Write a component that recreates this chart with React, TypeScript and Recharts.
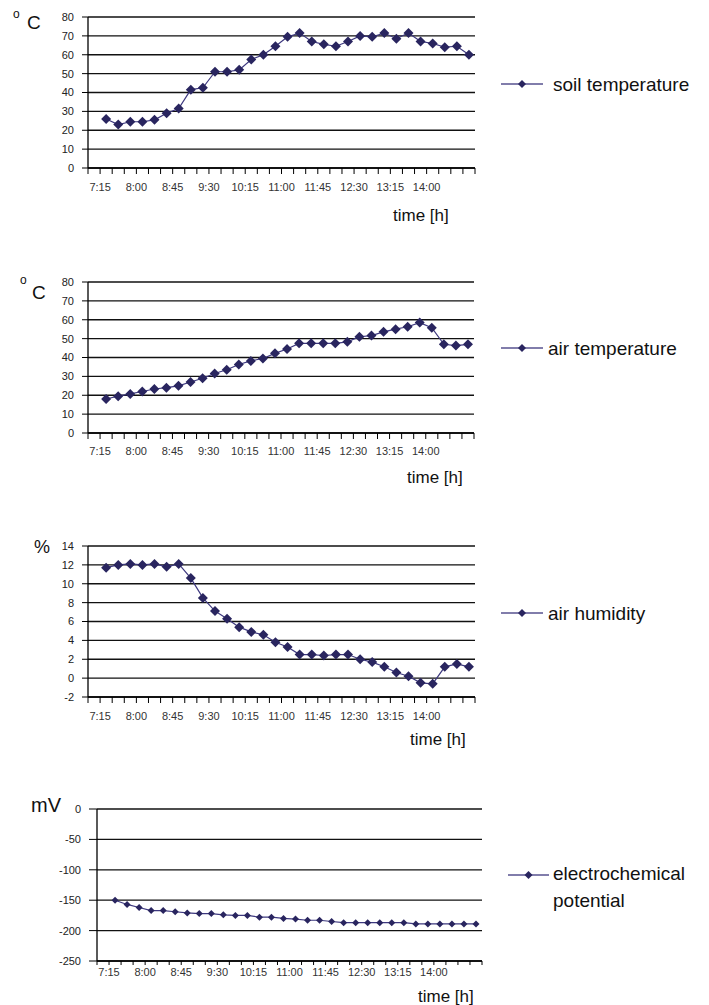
import React from 'react';
import { LineChart, Line, XAxis, YAxis, CartesianGrid } from 'recharts';

// one slot every 15 minutes, first slot has no reading
const timeSlots = [
  '7:00', '7:15', '7:30', '7:45', '8:00', '8:15', '8:30', '8:45',
  '9:00', '9:15', '9:30', '9:45', '10:00', '10:15', '10:30', '10:45',
  '11:00', '11:15', '11:30', '11:45', '12:00', '12:15', '12:30', '12:45',
  '13:00', '13:15', '13:30', '13:45', '14:00', '14:15', '14:30', '14:45',
];
const shownTimes = ['7:15', '8:00', '8:45', '9:30', '10:15', '11:00', '11:45', '12:30', '13:15', '14:00'];

const soilTemp = [26, 23, 24.5, 24.5, 25.5, 29, 31.5, 41.5, 42.5, 51, 51, 52, 57.5, 60, 64.5, 69.5, 71.5, 67, 65.5, 64.5, 67, 70, 69.5, 71.5, 68.5, 71.5, 67, 66, 64, 64.5, 60];
const airTemp = [18, 19.5, 20.7, 22, 23.3, 24, 25, 27, 29, 31.5, 33.5, 36.3, 38.2, 39.5, 42.2, 44.5, 47.5, 47.5, 47.5, 47.5, 48.3, 51, 51.6, 53.6, 55, 56.3, 58.5, 55.8, 47, 46.3, 47];
const airHumidity = [11.7, 12, 12.1, 12, 12.1, 11.8, 12.1, 10.6, 8.5, 7.1, 6.3, 5.4, 4.9, 4.6, 3.8, 3.3, 2.5, 2.5, 2.4, 2.5, 2.5, 2.0, 1.7, 1.2, 0.6, 0.2, -0.5, -0.6, 1.2, 1.5, 1.2];
const potential = [-150, -157, -162, -167, -167, -169, -171, -172, -172, -174, -175, -175, -178, -178, -180, -181, -183, -183, -185, -187, -187, -187, -187, -187, -187, -189, -189, -189, -189, -189, -189];

const tempTicks = [0, 10, 20, 30, 40, 50, 60, 70, 80];
const humidityTicks = [-2, 0, 2, 4, 6, 8, 10, 12, 14];
const potentialTicks = [-250, -200, -150, -100, -50, 0];

const buildData = (values: number[]) =>
  timeSlots.map((time, i) => ({ time, value: i === 0 ? null : values[i - 1] }));

const FONT = '"Liberation Sans", Arial, sans-serif';
const LINE = '#3d387f';
const MARK = '#29255f';

const Diamond = ({ cx, cy, r }: any) => {
  if (cx == null || cy == null || isNaN(cy)) return null;
  return <polygon points={`${cx},${cy - r} ${cx + r},${cy} ${cx},${cy + r} ${cx - r},${cy}`} fill={MARK} />;
};

const XTick = (props: any) => {
  const { x, y, payload, index, bandHalf, labelDy, tickLen } = props;
  const half = payload && payload.offset ? payload.offset : bandHalf;
  const bx = x - half;
  const isLast = index === timeSlots.length - 1;
  return (
    <g>
      <line x1={bx} y1={y} x2={bx} y2={y + tickLen} stroke="#000" />
      {isLast && <line x1={x + half} y1={y} x2={x + half} y2={y + tickLen} stroke="#000" />}
      {shownTimes.includes(payload.value) && (
        <text x={bx} y={y + labelDy} textAnchor="middle" fontSize={11} fill="#333" fontFamily={FONT}>
          {payload.value}
        </text>
      )}
    </g>
  );
};

type PanelProps = {
  top: number;
  values: number[];
  domain: [number, number];
  ticks: number[];
  yWidth: number;
  right: number;
  plotHeight: number;
  labelDy: number;
  tickLen: number;
  markR: number;
  yTickSize: number;
};

const WIDTH = 490;
const MT = 10;
const XH = 40;

const Panel = ({ top, values, domain, ticks, yWidth, right, plotHeight, labelDy, tickLen, markR, yTickSize }: PanelProps) => {
  const data = buildData(values);
  const bandHalf = (WIDTH - yWidth - right) / timeSlots.length / 2;
  return (
    <div style={{ position: 'absolute', left: 0, top }}>
      <LineChart width={WIDTH} height={MT + plotHeight + XH} data={data} margin={{ top: MT, right, bottom: 0, left: 0 }}>
        <CartesianGrid vertical={false} stroke="#111" strokeWidth={1.3} />
        <XAxis
          dataKey="time"
          scale="band"
          interval={0}
          height={XH}
          tickSize={0}
          tickMargin={0}
          tickLine={false}
          axisLine={{ stroke: '#000', strokeWidth: 1.3 }}
          tick={(p: any) => <XTick {...p} bandHalf={bandHalf} labelDy={labelDy} tickLen={tickLen} />}
        />
        <XAxis xAxisId="top" dataKey="time" orientation="top" height={0} tick={false} tickLine={false} axisLine={{ stroke: '#999' }} />
        <YAxis
          domain={domain}
          ticks={ticks}
          width={yWidth}
          interval={0}
          tickSize={yTickSize}
          tickMargin={8}
          tickLine={{ stroke: '#000' }}
          axisLine={{ stroke: '#000', strokeWidth: 1.3 }}
          tick={{ fontSize: 11, fill: '#222', fontFamily: FONT }}
        />
        <YAxis yAxisId="right" orientation="right" width={0} tick={false} tickLine={false} axisLine={{ stroke: '#999' }} />
        <Line
          type="linear"
          dataKey="value"
          stroke={LINE}
          strokeWidth={1.2}
          isAnimationActive={false}
          dot={(p: any) => <Diamond key={`d-${p.index}`} cx={p.cx} cy={p.cy} r={markR} />}
          activeDot={false}
        />
      </LineChart>
    </div>
  );
};

const LegendIcon = ({ width }: { width: number }) => (
  <svg width={width} height={14} style={{ display: 'block' }}>
    <line x1={0} y1={7} x2={width} y2={7} stroke="#57528f" strokeWidth={1.6} />
    <polygon points={`${width / 2},3 ${width / 2 + 4},7 ${width / 2},11 ${width / 2 - 4},7`} fill={MARK} />
  </svg>
);

const abs = (left: number, top: number, extra: React.CSSProperties = {}): React.CSSProperties => ({
  position: 'absolute', left, top, lineHeight: 1, whiteSpace: 'nowrap', color: '#111', ...extra,
});

export default function App() {
  return (
    <div style={{ position: 'relative', width: 709, height: 1005, background: '#fff', fontFamily: FONT }}>
      <style>{'body{margin:0}'}</style>

      {/* soil temperature */}
      <span style={abs(13, 8, { fontSize: 12 })}>o</span>
      <span style={abs(27, 13, { fontSize: 19 })}>C</span>
      <Panel top={7} values={soilTemp} domain={[0, 80]} ticks={tempTicks} yWidth={88} right={15} plotHeight={151} labelDy={23} tickLen={6} markR={5} yTickSize={6} />
      <span style={abs(393, 207, { fontSize: 17 })}>time [h]</span>
      <div style={abs(501, 73, { display: 'flex', alignItems: 'center', height: 22 })}>
        <LegendIcon width={42} />
        <span style={{ marginLeft: 10, fontSize: 19 }}>soil temperature</span>
      </div>

      {/* air temperature */}
      <span style={abs(20, 274, { fontSize: 12 })}>o</span>
      <span style={abs(32, 283, { fontSize: 19 })}>C</span>
      <Panel top={272} values={airTemp} domain={[0, 80]} ticks={tempTicks} yWidth={88} right={16} plotHeight={151} labelDy={22} tickLen={6} markR={5} yTickSize={6} />
      <span style={abs(407, 469, { fontSize: 17 })}>time [h]</span>
      <div style={abs(501, 337, { display: 'flex', alignItems: 'center', height: 22 })}>
        <LegendIcon width={42} />
        <span style={{ marginLeft: 5, fontSize: 19 }}>air temperature</span>
      </div>

      {/* air humidity */}
      <span style={abs(34, 538, { fontSize: 18 })}>%</span>
      <Panel top={536} values={airHumidity} domain={[-2, 14]} ticks={humidityTicks} yWidth={88} right={15} plotHeight={151} labelDy={23} tickLen={6} markR={5} yTickSize={6} />
      <span style={abs(410, 731, { fontSize: 17 })}>time [h]</span>
      <div style={abs(501, 602, { display: 'flex', alignItems: 'center', height: 22 })}>
        <LegendIcon width={42} />
        <span style={{ marginLeft: 5, fontSize: 19 }}>air humidity</span>
      </div>

      {/* electrochemical potential */}
      <span style={abs(31, 795, { fontSize: 20 })}>mV</span>
      <Panel top={799} values={potential} domain={[-250, 0]} ticks={potentialTicks} yWidth={97} right={8} plotHeight={152} labelDy={15} tickLen={4} markR={3.5} yTickSize={8} />
      <span style={abs(418, 988, { fontSize: 17 })}>time [h]</span>
      <div style={abs(508, 868)}>
        <LegendIcon width={41} />
      </div>
      <div style={abs(553, 860, { fontSize: 19, lineHeight: '27px' })}>
        electrochemical
        <br />
        potential
      </div>
    </div>
  );
}
